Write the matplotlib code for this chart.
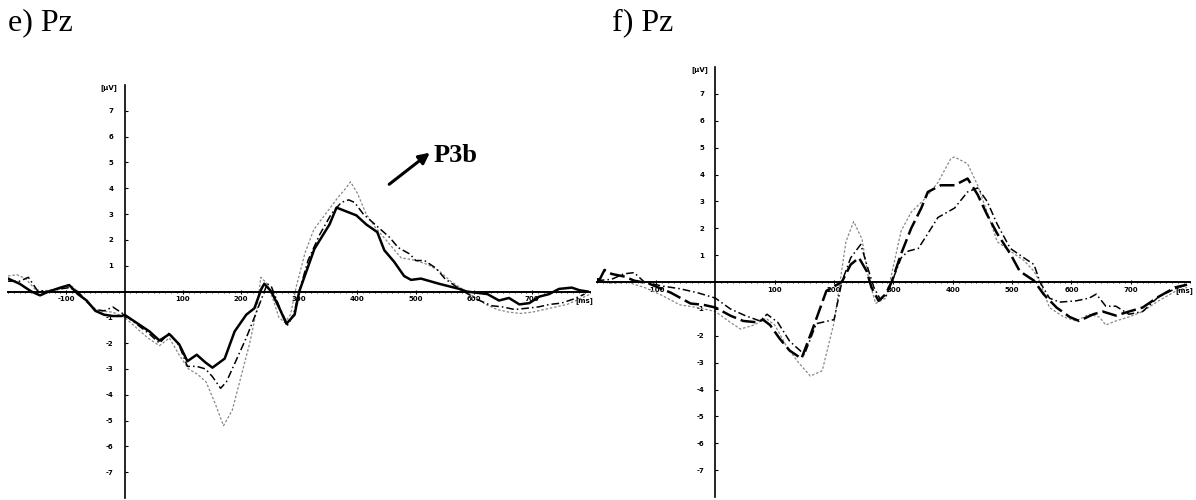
import numpy as np
import matplotlib.pyplot as plt

### données (temps en ms, amplitude en µV)

# e) Pz
t_e_solid = [-200, -180, -160, -145, -130, -110, -95, -80, -65, -50, -35, -20, -5, 0,
             43, 60, 77, 94, 108, 124, 139, 151, 172, 189, 209, 223, 235, 240, 252,
             266, 278, 292, 300, 326, 352, 364, 381, 398, 415, 434, 446, 463, 480,
             492, 509, 540, 575, 587, 623, 643, 660, 678, 695, 712, 729, 746, 768, 781, 795]
v_e_solid = [0.5, 0.3, 0.0, -0.15, 0.0, 0.15, 0.25, -0.1, -0.35, -0.75, -0.9, -0.95, -0.95, -0.9,
             -1.55, -1.9, -1.65, -2.05, -2.7, -2.45, -2.75, -2.95, -2.6, -1.55, -0.9, -0.65, 0.1, 0.3, 0.0,
             -0.65, -1.25, -0.9, 0.0, 1.65, 2.6, 3.25, 3.1, 2.95, 2.6, 2.3, 1.6, 1.15, 0.6,
             0.45, 0.5, 0.3, 0.1, 0.0, -0.1, -0.35, -0.25, -0.5, -0.45, -0.2, -0.1, 0.1, 0.15, 0.05, 0.0]

t_e_dashdot = [-200, -180, -165, -150, -130, -110, -95, -80, -65, -50, -35, -20, 0,
               43, 60, 77, 94, 108, 124, 139, 151, 165, 175, 189, 209, 223, 235, 245, 252,
               266, 280, 290, 300, 315, 335, 355, 372, 385, 395, 410, 425, 440, 455, 470,
               490, 500, 515, 535, 550, 575, 590, 610, 630, 650, 670, 690, 710, 730, 750, 770, 790]
v_e_dashdot = [0.4, 0.4, 0.55, 0.05, 0.0, 0.1, 0.15, 0.0, -0.4, -0.7, -0.75, -0.6, -0.9,
               -1.65, -2.0, -1.6, -2.1, -2.9, -2.9, -3.0, -3.3, -3.75, -3.5, -2.8, -1.8, -1.0, -0.3, 0.3, 0.2,
               -0.6, -1.3, -0.9, 0.0, 1.2, 2.2, 3.0, 3.45, 3.55, 3.45, 3.0, 2.7, 2.4, 2.1, 1.7,
               1.45, 1.2, 1.2, 0.9, 0.5, 0.1, -0.1, -0.35, -0.55, -0.6, -0.7, -0.65, -0.6, -0.5, -0.45, -0.3, -0.1]

t_e_dot = [-200, -185, -170, -150, -130, -110, -90, -75, -60, -45, -20, 0,
           40, 60, 77, 95, 110, 125, 140, 155, 170, 185, 200, 215, 228, 234, 245, 255,
           265, 275, 285, 295, 310, 325, 345, 365, 380, 388, 400, 415, 430, 445, 460, 475,
           490, 500, 520, 540, 560, 580, 600, 620, 640, 660, 680, 700, 720, 740, 760, 780, 800]
v_e_dot = [0.6, 0.65, 0.5, 0.0, 0.05, 0.1, 0.2, -0.1, -0.5, -0.75, -0.8, -1.0,
           -1.8, -2.1, -1.8, -2.5, -3.0, -3.2, -3.5, -4.3, -5.2, -4.6, -3.3, -2.0, -0.6, 0.55, 0.3, -0.3,
           -1.0, -1.2, -0.9, 0.2, 1.5, 2.4, 3.0, 3.6, 4.0, 4.25, 3.8, 3.0, 2.5, 2.1, 1.7, 1.3,
           1.25, 1.2, 1.05, 0.8, 0.4, 0.1, -0.2, -0.5, -0.7, -0.8, -0.85, -0.8, -0.7, -0.6, -0.5, -0.3, -0.1]

# f) Pz
t_f_dash = [-200, -195, -187, -175, -153, -137, -113, -75, -42, -20, 0, 25, 47, 70, 80, 92,
            108, 125, 145, 163, 187, 213, 228, 242, 255, 263, 275, 287, 297, 313, 330, 347,
            358, 380, 403, 425, 442, 458, 475, 497, 513, 537, 553, 575, 597, 613, 637, 653,
            675, 697, 720, 747, 775, 795]
v_f_dash = [0.1, 0.1, 0.45, 0.3, 0.2, 0.05, -0.05, -0.4, -0.8, -0.85, -0.95, -1.25, -1.45, -1.5, -1.4, -1.6,
            -2.1, -2.55, -2.85, -1.8, -0.33, 0.0, 0.65, 0.9, 0.4, -0.2, -0.7, -0.45, 0.0, 1.05, 2.0, 2.75,
            3.35, 3.6, 3.6, 3.85, 3.25, 2.5, 1.8, 1.05, 0.4, 0.05, -0.45, -0.95, -1.3, -1.45, -1.2, -1.1,
            -1.25, -1.1, -0.95, -0.55, -0.2, -0.1]

t_f_dashdot = [-200, -175, -155, -137, -120, -90, -60, -30, 0, 25, 50, 75, 87, 105,
               125, 150, 170, 200, 213, 228, 245, 255, 267, 278, 288, 300, 313, 325, 342,
               358, 375, 403, 425, 442, 458, 475, 497, 520, 537, 547, 563, 580, 608, 630,
               642, 658, 675, 697, 720, 747, 775, 795]
v_f_dashdot = [0.05, 0.1, 0.3, 0.35, 0.0, -0.15, -0.25, -0.4, -0.6, -1.0, -1.25, -1.45, -1.2, -1.5,
               -2.2, -2.7, -1.55, -1.4, 0.0, 0.9, 1.4, 0.65, -0.2, -0.65, -0.5, 0.15, 0.9, 1.15, 1.25,
               1.8, 2.4, 2.75, 3.35, 3.5, 3.0, 2.15, 1.25, 0.9, 0.65, 0.0, -0.6, -0.75, -0.7, -0.6,
               -0.45, -0.9, -0.9, -1.2, -1.1, -0.55, -0.25, -0.1]

t_f_dot = [-200, -170, -150, -120, -90, -60, -30, 0, 25, 42, 65, 85, 100,
           120, 140, 160, 180, 200, 220, 233, 247, 258, 270, 287, 297, 313, 330, 353,
           375, 397, 403, 425, 442, 458, 475, 497, 520, 537, 547, 563, 587, 608, 630,
           647, 658, 675, 697, 720, 747, 775, 795]
v_f_dot = [0.0, -0.05, 0.0, -0.2, -0.5, -0.85, -0.95, -1.1, -1.5, -1.75, -1.6, -1.35, -1.6,
           -2.4, -3.0, -3.5, -3.3, -1.5, 1.5, 2.25, 1.6, 0.15, -0.8, -0.6, 0.3, 1.9, 2.6, 3.1,
           3.7, 4.6, 4.65, 4.4, 3.6, 2.6, 1.5, 1.15, 0.8, 0.4, 0.0, -0.95, -1.3, -1.45, -1.2,
           -1.3, -1.6, -1.45, -1.3, -1.1, -0.7, -0.35, -0.2]

y_ticks = [-7, -6, -5, -4, -3, -2, -1, 1, 2, 3, 4, 5, 6, 7]
x_ticks = [-100, 100, 200, 300, 400, 500, 600, 700]

### tracé

fig = plt.figure(figsize=(11.96, 5.0), dpi=100)
ax1 = fig.add_axes([0.0067, 0.004, 0.487, 0.826])
ax2 = fig.add_axes([0.499, 0.006, 0.496, 0.86])


def axes_eeg(ax):
    ax.set_xlim(-200, 800)
    ax.set_ylim(-8, 8)
    ax.spines['left'].set_position(('data', 0))
    ax.spines['bottom'].set_position(('data', 0))
    ax.spines['top'].set_visible(False)
    ax.spines['right'].set_visible(False)
    ax.spines['left'].set_linewidth(1.2)
    ax.spines['bottom'].set_linewidth(1.4)
    ax.set_xticks(x_ticks)
    ax.set_xticklabels([str(x) for x in x_ticks])
    ax.set_xticks(np.arange(-200, 801, 10), minor=True)
    ax.set_yticks(y_ticks)
    ax.set_yticklabels([str(y) for y in y_ticks])
    ax.tick_params(axis='x', which='major', length=3, width=0.8, direction='inout', labelsize=5, pad=2)
    ax.tick_params(axis='x', which='minor', length=2, width=0.6, direction='inout')
    ax.tick_params(axis='y', length=2, width=0.8, direction='in', labelsize=5, pad=8)
    for lab in ax.get_xticklabels() + ax.get_yticklabels():
        lab.set_fontweight('bold')
    ax.text(790, -0.2, '[ms]', fontsize=5, ha='center', va='top', fontweight='bold')
    ax.text(-12, 7.9, '[µV]', fontsize=5, ha='right', va='center', fontweight='bold')
    ax.patch.set_alpha(0)


axes_eeg(ax1)
ax1.plot(t_e_dot, v_e_dot, color='#888888', lw=0.9, ls=(0, (2, 1.5)))
ax1.plot(t_e_dashdot, v_e_dashdot, color='black', lw=1.1, ls=(0, (5, 2, 1, 2)))
ax1.plot(t_e_solid, v_e_solid, color='black', lw=1.8)

axes_eeg(ax2)
ax2.plot(t_f_dot, v_f_dot, color='#888888', lw=0.9, ls=(0, (2, 1.5)))
ax2.plot(t_f_dashdot, v_f_dashdot, color='black', lw=1.1, ls=(0, (5, 2, 1, 2)))
ax2.plot(t_f_dash, v_f_dash, color='black', lw=1.8, ls=(0, (6, 2)))

fig.text(8 / 1196, 0.955, 'e) Pz', fontsize=23, family='Liberation Serif', va='center', ha='left')
fig.text(612 / 1196, 0.955, 'f) Pz', fontsize=23, family='Liberation Serif', va='center', ha='left')

fig.text(434 / 1196, 1 - 156 / 500, 'P3b', fontsize=19, family='Liberation Serif',
         fontweight='bold', va='center', ha='left')
ax1.annotate('', xy=(432 / 1196, 1 - 151 / 500), xytext=(387 / 1196, 1 - 186 / 500),
             xycoords='figure fraction', textcoords='figure fraction',
             arrowprops=dict(arrowstyle='-|>', color='black', lw=2.2, mutation_scale=16))

fig.savefig('out.png', dpi=100)
